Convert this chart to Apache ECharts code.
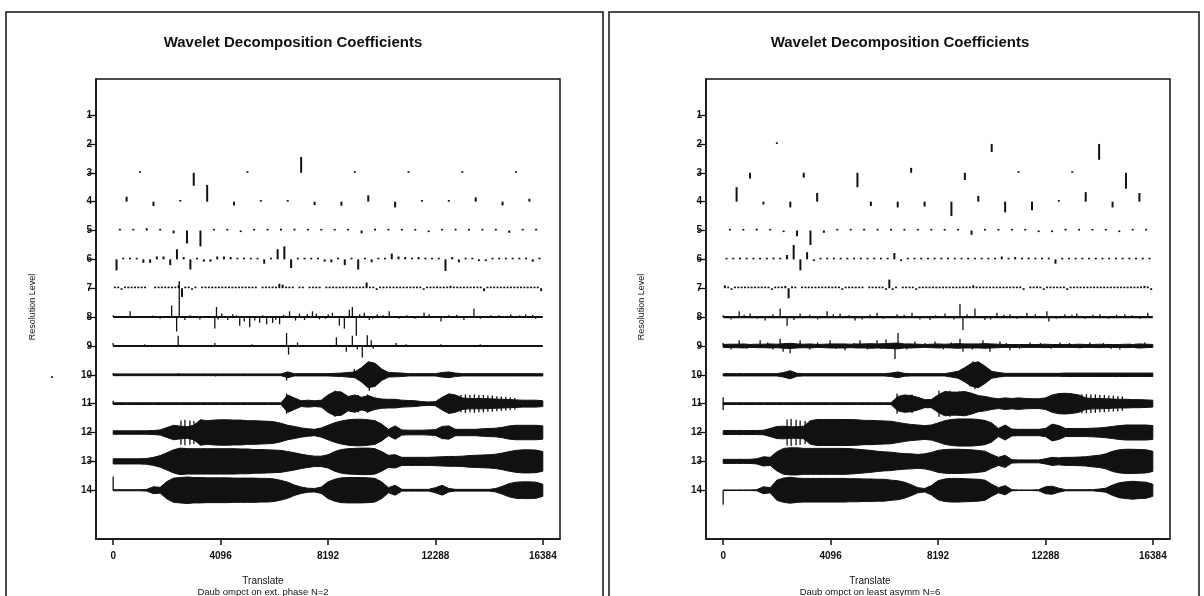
<!DOCTYPE html>
<html>
<head>
<meta charset="utf-8">
<title>Wavelet Decomposition Coefficients</title>
<script src="https://cdn.jsdelivr.net/npm/echarts@6.0.0/dist/echarts.min.js"></script>
<style>
  html, body { margin: 0; padding: 0; background: #fff; }
  #chart { width: 1204px; height: 596px; }
</style>
</head>
<body>
<div id="chart"></div>
<script>
// axis ticks
const translateTicks = [0, 4096, 8192, 12288, 16384];
const levelTicks = [1, 2, 3, 4, 5, 6, 7, 8, 9, 10, 11, 12, 13, 14];
const signalLength = 16384;
const envStep = 256; // envelope samples every 256 translates (65 samples)

// ---- left panel: Daub cmpct on ext. phase N=2 ----
// coarse levels: one value per coefficient (level units, + = up)
const leftL1 = [0, 0];
const leftL2 = [0, 0, 0, 0];
const leftL3 = [0.03, -0.45, 0.03, 0.55, 0.03, 0.03, 0.03, 0.03];
const leftL4 = [0.17, -0.15, 0.03, 0.58, -0.13, 0.03, 0.03, -0.12, -0.14, 0.22, -0.2, 0.03, 0.03, 0.15, -0.13, 0.1];
const leftL5 = [0.03, 0.03, 0.08, 0.03, -0.1, -0.45, -0.55, 0.03, 0.03, -0.05, 0.03, 0.03, 0.06, 0.06, 0.03, 0.03,
  0.03, 0.03, -0.1, 0.06, 0.03, 0.03, 0.03, -0.05, 0.03, 0.06, 0.03, 0.03, 0.03, -0.08, 0.03, 0.03];
const leftL6 = [-0.38, 0.03, 0.03, 0.03, -0.12, -0.12, 0.1, 0.1, -0.2, 0.35, 0.08, -0.35, 0.03, -0.08, -0.08, 0.1,
  0.1, 0.08, 0.03, 0.03, 0.03, 0.03, -0.15, 0.03, 0.35, 0.45, -0.3, 0.03, 0.03, 0.03, 0.03, -0.08,
  -0.1, 0.03, -0.2, 0.03, -0.35, 0.03, -0.1, 0.03, 0.03, 0.2, 0.1, 0.08, 0.03, 0.08, 0.03, 0.03,
  0.03, -0.4, 0.08, -0.1, 0.03, 0.03, -0.06, -0.06, 0.03, 0.03, 0.03, 0.03, 0.06, 0.03, -0.08, 0.06];
const leftL7 = [0.04, 0.03, -0.04, 0.03, 0.03, 0.02, 0.03, 0.02, 0.03, 0.02, 0, 0, 0.03, 0.02, 0.03, 0.03,
  0.02, 0.04, 0.05, 0.1, -0.3, 0.05, 0.03, -0.03, 0.03, 0, 0.03, 0.02, 0.03, 0.03, 0.02, 0.03,
  0.03, 0.03, 0.02, 0.03, 0.03, 0.03, 0.02, 0.03, 0.03, 0.03, 0.03, 0, 0.03, 0.03, 0.03, 0.04,
  0.05, 0.15, 0.12, 0.04, 0.03, 0.03, 0, 0.03, 0.03, 0, 0.03, 0.03, 0.03, 0.03, 0, 0.03,
  0.03, 0.03, 0.04, 0.05, 0.04, 0.03, 0.03, 0.04, 0.04, 0.05, 0.06, 0.2, 0.05, 0.04, -0.06, 0.04,
  0.03, 0.04, 0.03, 0.04, 0.03, 0.04, 0.03, 0.03, 0.05, 0.04, 0.04, 0.04, -0.04, 0.04, 0.04, 0.05,
  0.06, 0.05, 0.04, 0.04, 0.08, 0.05, 0.04, 0.04, 0.04, 0.04, 0.04, 0.03, 0.03, 0.03, -0.1, 0.03,
  0.03, 0.04, 0.03, 0.03, 0.04, 0.03, 0.03, 0.02, 0.03, 0.03, 0.03, 0.04, 0.05, 0.05, 0.04, -0.1];
// fine levels: single spikes [translate, value]
const leftL8Spikes = [[0, 0.06], [646, 0.2], [1520, 0.05], [1786, -0.06], [2230, 0.4], [2420, -0.5], [2520, 1.25],
  [2736, -0.1], [2926, 0.06], [3306, -0.08], [3876, -0.4], [3940, 0.35], [4000, -0.08], [4142, 0.12], [4370, -0.1],
  [4560, 0.1], [4700, 0.06], [4826, -0.3], [5000, -0.15], [5206, -0.35], [5400, -0.12], [5586, -0.2], [5700, 0.06],
  [5852, -0.25], [6080, -0.2], [6200, -0.1], [6346, -0.25], [6500, 0.08], [6726, 0.2], [6954, -0.12], [7106, 0.12],
  [7296, -0.1], [7400, 0.1], [7600, 0.2], [7750, 0.12], [7866, -0.08], [8100, -0.06], [8200, 0.1], [8360, 0.15],
  [8626, -0.3], [8816, -0.4], [9006, 0.25], [9120, 0.35], [9272, -0.65], [9400, 0.1], [9576, 0.15], [9766, -0.1],
  [9900, -0.06], [10070, 0.1], [10300, 0.06], [10526, 0.2], [10906, -0.06], [11200, 0.06], [11500, -0.06],
  [11856, 0.15], [12046, 0.1], [12502, -0.15], [12800, 0.06], [13100, 0.08], [13376, -0.1], [13756, 0.3],
  [14000, -0.06], [14400, 0.06], [14706, 0.06], [15162, 0.1], [15500, 0.06], [15732, 0.1], [16000, 0.08], [16112, -0.06]];
const leftL9Spikes = [[0, 0.1], [1200, 0.04], [2480, 0.35], [3876, 0.1], [5300, 0.04], [6612, 0.45], [6688, -0.3],
  [7030, 0.12], [8512, 0.3], [8892, -0.2], [9120, 0.35], [9310, -0.12], [9500, -0.4], [9690, 0.37], [9842, 0.2],
  [9918, -0.1], [10792, 0.1], [11172, 0.05], [12500, 0.04], [14000, 0.04]];
const leftL10Spikes = [[0, 0.05], [2500, 0.05], [3900, -0.05], [6612, -0.2], [6650, 0.1], [9196, 0.2], [9576, 0.3],
  [9766, -0.55], [9842, 0.35], [9994, -0.4], [10146, 0.25], [12900, 0.08]];
const leftL11Spikes = [[0, 0.1]];
const leftL14Spikes = [[0, 0.48]];
// symmetric teeth [translate, half height]
const leftL11Teeth = [[6612, 0.35], [8450, 0.45], [8650, 0.42], [9350, 0.3], [9700, 0.32],
  [13262, 0.3], [13433, 0.32], [13604, 0.3], [13775, 0.32], [13946, 0.3], [14117, 0.3], [14288, 0.28],
  [14459, 0.28], [14630, 0.26], [14801, 0.25], [14972, 0.24], [15143, 0.22], [15314, 0.2]];
const leftL12Teeth = [[2584, 0.42], [2736, 0.44], [2926, 0.42], [3078, 0.4]];
// envelopes: half height every 256 translates
const leftL10Env = [0.03, 0.03, 0.03, 0.03, 0.03, 0.03, 0.03, 0.03, 0.03, 0.03, 0.03, 0.03, 0.03, 0.03, 0.03, 0.03,
  0.03, 0.03, 0.03, 0.03, 0.03, 0.03, 0.03, 0.03, 0.03, 0.03, 0.1, 0.04, 0.04, 0.04, 0.04, 0.04,
  0.04, 0.05, 0.06, 0.08, 0.1, 0.25, 0.45, 0.4, 0.2, 0.08, 0.07, 0.06, 0.04, 0.04, 0.04, 0.04,
  0.04, 0.08, 0.1, 0.06, 0.04, 0.04, 0.04, 0.04, 0.04, 0.04, 0.04, 0.04, 0.04, 0.04, 0.04, 0.04, 0.04];
const leftL11Env = [0.03, 0.03, 0.03, 0.03, 0.03, 0.03, 0.03, 0.03, 0.03, 0.03, 0.03, 0.03, 0.03, 0.03, 0.03, 0.03,
  0.03, 0.03, 0.03, 0.03, 0.03, 0.03, 0.03, 0.03, 0.03, 0.03, 0.3, 0.2, 0.1, 0.12, 0.1, 0.12,
  0.3, 0.42, 0.4, 0.25, 0.3, 0.22, 0.28, 0.2, 0.16, 0.15, 0.15, 0.12, 0.11, 0.1, 0.07, 0.06,
  0.07, 0.22, 0.34, 0.3, 0.2, 0.18, 0.18, 0.18, 0.17, 0.16, 0.15, 0.14, 0.13, 0.12, 0.12, 0.12, 0.1];
const leftL12Env = [0.06, 0.06, 0.06, 0.06, 0.06, 0.06, 0.07, 0.09, 0.17, 0.25, 0.22, 0.2, 0.25, 0.44, 0.41, 0.43,
  0.44, 0.44, 0.43, 0.43, 0.41, 0.41, 0.4, 0.39, 0.37, 0.32, 0.25, 0.21, 0.16, 0.13, 0.11, 0.16,
  0.25, 0.34, 0.4, 0.44, 0.46, 0.46, 0.44, 0.41, 0.29, 0.11, 0.23, 0.09, 0.08, 0.08, 0.08, 0.09,
  0.1, 0.21, 0.23, 0.11, 0.11, 0.11, 0.11, 0.13, 0.14, 0.15, 0.18, 0.23, 0.25, 0.25, 0.25, 0.25, 0.23];
const leftL13Env = [0.09, 0.09, 0.09, 0.09, 0.09, 0.1, 0.14, 0.2, 0.3, 0.4, 0.46, 0.44, 0.44, 0.44, 0.44, 0.44,
  0.44, 0.44, 0.44, 0.43, 0.43, 0.41, 0.41, 0.4, 0.39, 0.38, 0.34, 0.3, 0.25, 0.21, 0.18, 0.18,
  0.23, 0.34, 0.41, 0.44, 0.45, 0.46, 0.46, 0.44, 0.34, 0.21, 0.23, 0.14, 0.14, 0.14, 0.14, 0.14,
  0.15, 0.16, 0.17, 0.17, 0.18, 0.2, 0.21, 0.22, 0.23, 0.25, 0.29, 0.34, 0.38, 0.4, 0.4, 0.39, 0.34];
const leftL14Env = [0.02, 0.02, 0.02, 0.02, 0.02, 0.03, 0.12, 0.1, 0.3, 0.42, 0.44, 0.46, 0.44, 0.44, 0.43, 0.43,
  0.43, 0.43, 0.42, 0.42, 0.42, 0.42, 0.41, 0.41, 0.39, 0.34, 0.28, 0.18, 0.11, 0.07, 0.06, 0.11,
  0.29, 0.38, 0.43, 0.44, 0.44, 0.44, 0.43, 0.41, 0.29, 0.09, 0.17, 0.03, 0.03, 0.03, 0.03, 0.03,
  0.09, 0.17, 0.06, 0.03, 0.03, 0.03, 0.03, 0.03, 0.03, 0.06, 0.14, 0.23, 0.28, 0.29, 0.29, 0.28, 0.21];

// ---- right panel: Daub cmpct on least asymm N=6 ----
const rightL1 = [0, 0];
const rightL2 = [0.03, 0, -0.28, -0.55];
const rightL3 = [-0.2, -0.17, -0.5, 0.17, -0.25, 0.03, 0.03, -0.55];
const rightL4 = [0.5, -0.1, -0.2, 0.3, 0, -0.15, -0.2, -0.17, -0.5, 0.2, -0.37, -0.3, 0.03, 0.33, -0.2, 0.3];
const rightL5 = [0.03, 0.03, 0.06, 0.03, -0.03, -0.2, -0.5, -0.08, 0.03, 0.03, 0.03, 0.03, 0.03, 0.03, 0.03, 0.03,
  0.03, 0.03, -0.15, 0.03, 0.03, 0.03, 0.03, -0.05, -0.05, 0.06, 0.03, 0.03, 0.03, -0.05, 0.03, 0.03];
const rightL6 = [0.03, 0.03, 0.03, 0.03, 0.03, 0.03, 0.03, 0.06, 0.04, 0.15, 0.5, -0.38, 0.25, -0.06, 0.03, 0.04,
  0.03, 0.03, 0.03, 0.03, 0.03, 0.03, 0.03, 0.03, 0.03, 0.22, -0.06, 0.04, 0.03, 0.03, 0.03, 0.03,
  0.03, 0.03, 0.03, 0.03, 0.03, 0.03, 0.03, 0.03, 0.03, 0.1, 0.05, 0.08, 0.03, 0.06, 0.03, 0.05,
  0.03, -0.15, 0.03, 0.03, 0.03, 0.03, 0.03, 0.03, 0.03, 0.03, 0.03, 0.03, 0.03, 0.03, 0.03, 0.03];
const rightL7 = [0.1, 0.03, -0.04, 0.03, 0.04, 0.03, 0.03, 0.04, 0.03, 0.04, 0.03, 0.03, 0.05, 0.04, -0.05, 0.04,
  0.05, 0.06, 0.08, -0.35, 0.06, 0.03, 0, 0.03, 0.03, 0.04, 0.03, 0.04, 0.05, 0.04, 0.03, 0.06,
  0.04, 0.06, 0.04, -0.04, 0.04, 0.03, 0.03, 0.04, 0.03, 0.03, 0, 0.03, 0.03, 0.04, 0.04, 0.05,
  -0.05, 0.3, -0.06, 0.03, 0, 0.03, 0.03, 0.04, 0.03, -0.04, 0.04, 0.05, 0.04, 0.04, 0.05, 0.04,
  0.03, 0.04, 0.03, 0.03, 0.04, 0.03, 0.04, 0.06, 0.05, 0.06, 0.1, 0.06, 0.05, 0.04, 0.03, 0.03,
  0.03, 0.04, 0.03, 0.04, 0.04, 0.05, 0.04, 0.03, 0.06, -0.06, 0, 0.06, 0.05, 0.06, 0.04, -0.05,
  0.04, 0.05, 0.04, 0.04, 0.05, 0.06, -0.06, 0.04, 0.05, 0.04, 0.04, 0.03, 0.03, 0.03, 0.04, 0.03,
  0.03, 0.03, 0.04, 0.04, 0.03, 0.03, 0.04, 0.03, 0.03, 0.04, 0.05, 0.05, 0.06, 0.08, 0.06, -0.06];
const rightL8Spikes = [[0, 0.06], [300, -0.08], [610, 0.2], [800, 0.08], [1029, 0.12], [1300, -0.06], [1600, -0.12],
  [1900, 0.1], [2172, 0.3], [2438, -0.3], [2700, -0.1], [2934, 0.12], [3300, 0.08], [3600, -0.08], [3962, 0.2],
  [4200, 0.1], [4458, 0.12], [4800, 0.06], [5029, -0.12], [5300, -0.08], [5600, 0.08], [5867, 0.15], [6100, -0.06],
  [6629, 0.1], [6900, 0.08], [7201, 0.15], [7500, -0.08], [7887, -0.1], [8100, 0.06], [8458, 0.12], [8800, -0.08],
  [9030, 0.45], [9144, -0.45], [9300, 0.1], [9601, 0.3], [9982, -0.1], [10200, -0.08], [10439, 0.15], [10700, 0.08],
  [10935, 0.1], [11200, -0.06], [11582, 0.15], [11900, 0.1], [12344, 0.2], [12420, -0.15], [12700, -0.06],
  [13030, 0.1], [13300, 0.08], [13487, 0.12], [13800, -0.06], [14100, 0.08], [14364, 0.1], [14700, -0.06],
  [15000, 0.08], [15316, 0.1], [15600, 0.06], [15900, -0.06], [16193, 0.15]];
const rightL9Spikes = [[0, 0.1], [300, -0.12], [610, 0.2], [900, -0.1], [1410, 0.2], [1700, 0.12], [1900, -0.12],
  [2172, 0.25], [2286, -0.2], [2553, -0.25], [2934, 0.2], [3300, -0.12], [3600, 0.12], [4077, 0.2], [4300, -0.1],
  [4648, -0.15], [5000, 0.1], [5220, 0.2], [5500, -0.12], [5867, 0.2], [6000, -0.1], [6210, 0.22], [6553, -0.45],
  [6668, 0.45], [7000, -0.12], [7315, 0.15], [7700, 0.1], [8077, 0.15], [8400, -0.12], [8700, 0.12], [9030, 0.25],
  [9144, -0.2], [9500, -0.12], [9906, 0.2], [10173, -0.2], [10554, 0.15], [10800, 0.1], [10935, -0.15],
  [11300, -0.1], [11697, 0.12], [12100, 0.1], [12500, -0.1], [12840, 0.12], [13200, 0.1], [13600, -0.08],
  [13983, 0.12], [14500, 0.1], [14800, -0.1], [15126, -0.12], [15500, 0.08], [15800, -0.08], [16078, 0.12]];
const rightL10Spikes = [[2500, 0.12], [6600, -0.1], [9400, -0.4], [9525, 0.47], [9601, -0.5], [9700, 0.4]];
const rightL14Spikes = [[0, -0.5]];
const rightL11Teeth = [[0, 0.22], [6630, 0.35], [6900, 0.3], [7200, 0.32], [8230, 0.45], [8650, 0.45], [9000, 0.42],
  [9300, 0.4], [13678, 0.33], [13850, 0.33], [14021, 0.32], [14193, 0.32], [14364, 0.3], [14535, 0.3],
  [14707, 0.28], [14878, 0.27], [15050, 0.26], [15221, 0.25]];
const rightL12Teeth = [[2438, 0.45], [2591, 0.47], [2781, 0.44], [2934, 0.42], [3124, 0.4]];
const rightL9Env = [0.05, 0.06, 0.06, 0.07, 0.05, 0.06, 0.06, 0.07, 0.06, 0.08, 0.09, 0.07, 0.06, 0.07, 0.05, 0.06,
  0.07, 0.07, 0.07, 0.06, 0.07, 0.07, 0.08, 0.07, 0.08, 0.09, 0.1, 0.07, 0.07, 0.06, 0.05, 0.06,
  0.07, 0.06, 0.07, 0.08, 0.07, 0.07, 0.07, 0.08, 0.07, 0.06, 0.05, 0.05, 0.05, 0.05, 0.05, 0.05,
  0.06, 0.05, 0.05, 0.05, 0.05, 0.06, 0.05, 0.05, 0.06, 0.05, 0.05, 0.05, 0.06, 0.05, 0.07, 0.06, 0.05];
const rightL10Env = [0.04, 0.04, 0.04, 0.04, 0.04, 0.04, 0.04, 0.04, 0.04, 0.08, 0.14, 0.05, 0.04, 0.04, 0.04, 0.04,
  0.04, 0.04, 0.04, 0.04, 0.04, 0.04, 0.04, 0.04, 0.04, 0.06, 0.1, 0.05, 0.04, 0.04, 0.04, 0.04,
  0.04, 0.04, 0.08, 0.12, 0.25, 0.4, 0.45, 0.3, 0.12, 0.08, 0.05, 0.05, 0.05, 0.05, 0.05, 0.05,
  0.05, 0.05, 0.05, 0.06, 0.06, 0.06, 0.06, 0.06, 0.06, 0.06, 0.06, 0.06, 0.06, 0.06, 0.06, 0.06, 0.06];
const rightL11Env = [0.03, 0.03, 0.03, 0.03, 0.03, 0.03, 0.03, 0.03, 0.03, 0.03, 0.03, 0.03, 0.03, 0.03, 0.03, 0.03,
  0.03, 0.03, 0.03, 0.03, 0.03, 0.03, 0.03, 0.03, 0.03, 0.03, 0.25, 0.3, 0.28, 0.22, 0.14, 0.14,
  0.3, 0.42, 0.4, 0.4, 0.42, 0.36, 0.28, 0.25, 0.2, 0.17, 0.2, 0.18, 0.2, 0.18, 0.17, 0.17,
  0.2, 0.3, 0.35, 0.36, 0.34, 0.3, 0.2, 0.18, 0.18, 0.17, 0.16, 0.15, 0.15, 0.14, 0.14, 0.13, 0.12];
const rightL12Env = [0.07, 0.07, 0.07, 0.07, 0.07, 0.07, 0.08, 0.14, 0.21, 0.22, 0.2, 0.2, 0.22, 0.41, 0.45, 0.45,
  0.45, 0.45, 0.45, 0.45, 0.44, 0.42, 0.42, 0.41, 0.4, 0.39, 0.35, 0.31, 0.28, 0.26, 0.24, 0.26,
  0.33, 0.41, 0.45, 0.47, 0.47, 0.47, 0.45, 0.42, 0.33, 0.14, 0.26, 0.12, 0.11, 0.11, 0.11, 0.11,
  0.14, 0.29, 0.24, 0.14, 0.14, 0.14, 0.14, 0.15, 0.16, 0.18, 0.21, 0.24, 0.26, 0.26, 0.26, 0.26, 0.24];
const rightL13Env = [0.07, 0.07, 0.07, 0.07, 0.07, 0.09, 0.16, 0.14, 0.33, 0.45, 0.47, 0.47, 0.45, 0.45, 0.45, 0.45,
  0.45, 0.45, 0.45, 0.44, 0.42, 0.4, 0.38, 0.35, 0.33, 0.32, 0.29, 0.27, 0.26, 0.24, 0.26, 0.31,
  0.38, 0.41, 0.42, 0.42, 0.41, 0.4, 0.38, 0.35, 0.24, 0.14, 0.21, 0.06, 0.05, 0.05, 0.05, 0.05,
  0.09, 0.14, 0.12, 0.14, 0.14, 0.15, 0.16, 0.19, 0.21, 0.26, 0.35, 0.4, 0.42, 0.42, 0.41, 0.4, 0.35];
const rightL14Env = [0.01, 0.01, 0.01, 0.01, 0.01, 0.02, 0.12, 0.09, 0.35, 0.42, 0.45, 0.42, 0.41, 0.41, 0.41, 0.41,
  0.41, 0.41, 0.41, 0.4, 0.4, 0.39, 0.39, 0.38, 0.38, 0.35, 0.33, 0.28, 0.19, 0.09, 0.06, 0.16,
  0.33, 0.39, 0.41, 0.41, 0.4, 0.39, 0.38, 0.35, 0.21, 0.09, 0.16, 0.02, 0.01, 0.01, 0.01, 0.02,
  0.12, 0.14, 0.07, 0.02, 0.02, 0.02, 0.02, 0.02, 0.04, 0.07, 0.18, 0.26, 0.29, 0.31, 0.29, 0.28, 0.21];

const INK = '#111';
const FONT = '"Liberation Sans", Arial, Helvetica, sans-serif';

// 系数 -> [translate, level, hi, lo]
function coefSticks(levels) {
  const out = [];
  levels.forEach((vals, i) => {
    const step = signalLength / vals.length;
    vals.forEach((v, k) => {
      if (v !== 0) out.push([(k + 0.5) * step, i + 1, v, 0]);
    });
  });
  return out;
}

function spikeSticks(level, spikes) {
  return spikes.map(([x, v]) => [x, level, v, 0]);
}

function toothSticks(level, teeth) {
  return teeth.map(([x, h]) => [x, level, h, -h]);
}

function stickRenderer(width) {
  return function (params, api) {
    const x = api.value(0);
    const lev = api.value(1);
    const hi = api.value(2);
    const lo = api.value(3);
    const a = api.coord([x, lev - lo]);
    const b = api.coord([x, lev - hi]);
    let y2 = b[1];
    if (Math.abs(y2 - a[1]) < 1.6) y2 = a[1] + (hi >= 0 ? -1.6 : 1.6);
    return {
      type: 'line',
      shape: { x1: a[0], y1: a[1], x2: a[0], y2: y2 },
      style: { stroke: INK, lineWidth: width }
    };
  };
}

function bandRenderer(envByLevel) {
  return function (params, api) {
    const lev = api.value(0);
    const amp = envByLevel[lev];
    const top = [];
    const bottom = [];
    amp.forEach((a, k) => {
      top.push(api.coord([k * envStep, lev - a]));
      bottom.push(api.coord([k * envStep, lev + a]));
    });
    return {
      type: 'polygon',
      shape: { points: top.concat(bottom.reverse()) },
      style: { fill: INK, stroke: INK, lineWidth: 1 }
    };
  };
}

function baselineRenderer(params, api) {
  const lev = api.value(0);
  const a = api.coord([0, lev]);
  const b = api.coord([signalLength, lev]);
  return {
    type: 'line',
    shape: { x1: a[0], y1: a[1], x2: b[0], y2: b[1] },
    style: { stroke: INK, lineWidth: api.value(1) }
  };
}

function panelSeries(idx, p) {
  const common = { type: 'custom', xAxisIndex: idx, yAxisIndex: idx, silent: true, animation: false };
  return [
    Object.assign({}, common, { renderItem: baselineRenderer, data: p.baselines }),
    Object.assign({}, common, { renderItem: bandRenderer(p.env), data: Object.keys(p.env).map((l) => [Number(l)]) }),
    Object.assign({}, common, { renderItem: stickRenderer(2), data: p.coefs }),
    Object.assign({}, common, { renderItem: stickRenderer(1.3), data: p.spikes })
  ];
}

const leftPanel = {
  baselines: [[8, 2], [9, 2]],
  env: { 10: leftL10Env, 11: leftL11Env, 12: leftL12Env, 13: leftL13Env, 14: leftL14Env },
  coefs: coefSticks([leftL1, leftL2, leftL3, leftL4, leftL5, leftL6, leftL7]),
  spikes: [].concat(
    spikeSticks(8, leftL8Spikes), spikeSticks(9, leftL9Spikes), spikeSticks(10, leftL10Spikes),
    spikeSticks(11, leftL11Spikes), spikeSticks(14, leftL14Spikes),
    toothSticks(11, leftL11Teeth), toothSticks(12, leftL12Teeth))
};

const rightPanel = {
  baselines: [[8, 2.4]],
  env: { 9: rightL9Env, 10: rightL10Env, 11: rightL11Env, 12: rightL12Env, 13: rightL13Env, 14: rightL14Env },
  coefs: coefSticks([rightL1, rightL2, rightL3, rightL4, rightL5, rightL6, rightL7]),
  spikes: [].concat(
    spikeSticks(8, rightL8Spikes), spikeSticks(9, rightL9Spikes), spikeSticks(10, rightL10Spikes),
    spikeSticks(14, rightL14Spikes), toothSticks(11, rightL11Teeth), toothSticks(12, rightL12Teeth))
};

function makeX(i) {
  return {
    type: 'value', gridIndex: i, min: -655, max: 17039,
    axisLine: { onZero: false, lineStyle: { color: INK, width: 1.5 } },
    axisTick: { customValues: translateTicks, length: 6, lineStyle: { color: INK, width: 1.5 } },
    axisLabel: {
      customValues: translateTicks, margin: 12, color: INK, fontSize: 10, fontWeight: 'bold',
      fontFamily: FONT, formatter: (v) => String(v)
    },
    splitLine: { show: false }
  };
}

function makeY(i) {
  return {
    type: 'value', gridIndex: i, inverse: true, min: -0.25, max: 15.69,
    axisLine: { onZero: false, lineStyle: { color: INK, width: 1.5 } },
    axisTick: { customValues: levelTicks, length: 8, lineStyle: { color: INK, width: 1.3 } },
    axisLabel: {
      customValues: levelTicks, margin: 4, color: INK, fontSize: 10, fontWeight: 'bold',
      fontFamily: FONT, formatter: (v) => String(v)
    },
    splitLine: { show: false }
  };
}

function text(x, y, str, font, extra) {
  return Object.assign({
    type: 'text', x: x, y: y, silent: true,
    style: { text: str, font: font, fill: INK, align: 'center', verticalAlign: 'middle' }
  }, extra || {});
}

const chart = echarts.init(document.getElementById('chart'), null, { renderer: 'canvas' });

const option = {
  animation: false,
  backgroundColor: '#fff',
  grid: [
    { left: 96, top: 79, width: 464, height: 460, show: true, borderColor: INK, borderWidth: 1.5 },
    { left: 706, top: 79, width: 464, height: 460, show: true, borderColor: INK, borderWidth: 1.5 }
  ],
  xAxis: [makeX(0), makeX(1)],
  yAxis: [makeY(0), makeY(1)],
  series: panelSeries(0, leftPanel).concat(panelSeries(1, rightPanel)),
  graphic: [
    { type: 'rect', silent: true, shape: { x: 6, y: 12, width: 597, height: 610 },
      style: { fill: 'none', stroke: INK, lineWidth: 1.5 } },
    { type: 'rect', silent: true, shape: { x: 609, y: 12, width: 590, height: 610 },
      style: { fill: 'none', stroke: INK, lineWidth: 1.5 } },
    text(293, 43, 'Wavelet Decomposition Coefficients', 'bold 15px ' + FONT),
    text(900, 43, 'Wavelet Decomposition Coefficients', 'bold 15px ' + FONT),
    text(33, 307, 'Resolution Level', '9px ' + FONT, { rotation: Math.PI / 2 }),
    text(642, 307, 'Resolution Level', '9px ' + FONT, { rotation: Math.PI / 2 }),
    text(263, 581, 'Translate', '10px ' + FONT),
    text(263, 592, 'Daub ompct on ext. phase N=2', '9.5px ' + FONT),
    text(870, 581, 'Translate', '10px ' + FONT),
    text(870, 592, 'Daub ompct on least asymm N=6', '9.5px ' + FONT),
    { type: 'circle', silent: true, shape: { cx: 52, cy: 377, r: 1 }, style: { fill: INK } }
  ]
};

chart.setOption(option);
</script>
</body>
</html>
